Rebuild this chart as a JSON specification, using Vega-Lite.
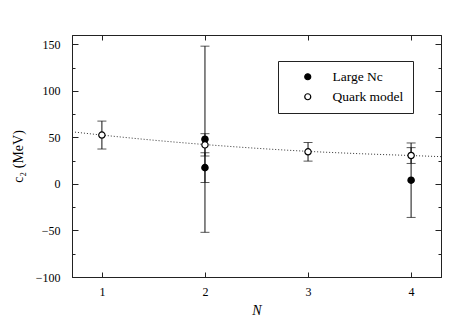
{
  "$schema": "https://vega.github.io/schema/vega-lite/v6.json",
  "width": 369,
  "height": 242,
  "padding": {"left": 72, "top": 35, "right": 22, "bottom": 50},
  "autosize": {"type": "none"},
  "background": "white",
  "datasets": {
    "pts": [
      {"series": "Large Nc", "N": 2, "c2": 48, "lo": -52, "hi": 148},
      {"series": "Large Nc", "N": 2, "c2": 17.5, "lo": 1.5, "hi": 33.5},
      {"series": "Large Nc", "N": 4, "c2": 4, "lo": -36, "hi": 44},
      {"series": "Quark model", "N": 1, "c2": 52.5, "lo": 37.5, "hi": 67.5},
      {"series": "Quark model", "N": 2, "c2": 42, "lo": 30, "hi": 54},
      {"series": "Quark model", "N": 3, "c2": 34.5, "lo": 24.5, "hi": 44.5},
      {"series": "Quark model", "N": 4, "c2": 30.5, "lo": 22, "hi": 39}
    ],
    "curve": [
      {"N": 0.71, "c2": 56},
      {"N": 1, "c2": 52.5},
      {"N": 1.5, "c2": 47},
      {"N": 2, "c2": 42.3},
      {"N": 2.5, "c2": 38.3},
      {"N": 3, "c2": 35},
      {"N": 3.5, "c2": 32.5},
      {"N": 4, "c2": 30.5},
      {"N": 4.29, "c2": 29.3}
    ]
  },
  "resolve": {"axis": {"x": "independent", "y": "independent"}},
  "layer": [
    {
      "data": {"name": "curve"},
      "mark": {"type": "line", "strokeDash": [1, 2], "color": "#333", "strokeWidth": 1, "interpolate": "monotone", "clip": true},
      "encoding": {
        "x": {"field": "N", "type": "quantitative", "scale": {"domain": [0.71, 4.29], "nice": false, "zero": false},
          "axis": {"title": "N", "orient": "bottom", "values": [1, 2, 3, 4], "format": "d", "titleFontStyle": "italic", "titleFontSize": 14, "titlePadding": 6, "labelPadding": 14}},
        "y": {"field": "c2", "type": "quantitative", "scale": {"domain": [-100, 160], "nice": false, "zero": false},
          "axis": {"title": "c₂ (MeV)", "orient": "left", "values": [-100, -75, -50, -25, 0, 25, 50, 75, 100, 125, 150],
            "labelExpr": "datum.value % 50 === 0 ? datum.label : ''",
            "tickSize": {"condition": {"test": "datum.value % 50 === 0", "value": -6}, "value": -3},
            "labelPadding": 18, "titleFontSize": 14, "titlePadding": 10}}
      }
    },
    {
      "data": {"name": "pts"},
      "mark": {"type": "rule", "color": "#111", "strokeWidth": 1},
      "encoding": {
        "x": {"field": "N", "type": "quantitative",
          "axis": {"title": null, "orient": "top", "values": [1, 2, 3, 4], "labels": false, "tickSize": -5}},
        "y": {"field": "lo", "type": "quantitative",
          "axis": {"title": null, "orient": "right", "values": [-100, -75, -50, -25, 0, 25, 50, 75, 100, 125, 150], "labels": false,
            "tickSize": {"condition": {"test": "datum.value % 50 === 0", "value": -6}, "value": -3}}},
        "y2": {"field": "hi"}
      }
    },
    {
      "data": {"name": "pts"},
      "mark": {"type": "tick", "orient": "horizontal", "color": "#111", "size": 9, "thickness": 1},
      "encoding": {
        "x": {"field": "N", "type": "quantitative", "axis": null},
        "y": {"field": "lo", "type": "quantitative", "axis": null}
      }
    },
    {
      "data": {"name": "pts"},
      "mark": {"type": "tick", "orient": "horizontal", "color": "#111", "size": 9, "thickness": 1},
      "encoding": {
        "x": {"field": "N", "type": "quantitative", "axis": null},
        "y": {"field": "hi", "type": "quantitative", "axis": null}
      }
    },
    {
      "data": {"name": "pts"},
      "mark": {"type": "point", "filled": false, "stroke": "#000", "strokeWidth": 1.2, "size": 40, "opacity": 1},
      "encoding": {
        "x": {"field": "N", "type": "quantitative", "axis": null},
        "y": {"field": "c2", "type": "quantitative", "axis": null},
        "fill": {"field": "series", "type": "nominal",
          "scale": {"domain": ["Large Nc", "Quark model"], "range": ["#000", "#fff"]},
          "legend": {"title": null, "orient": "none", "legendX": 206, "legendY": 26,
            "strokeColor": "#222", "padding": 9, "symbolOffset": 14,
            "symbolStrokeColor": "#000", "symbolStrokeWidth": 1.2, "symbolSize": 36,
            "labelFont": "Liberation Serif", "labelFontSize": 13.5, "labelOffset": 18, "rowPadding": 5,
            "fillColor": "white"}}
      }
    }
  ],
  "config": {
    "view": {"stroke": "#222", "strokeWidth": 1},
    "font": "Liberation Serif",
    "legend": {"labelFont": "Liberation Serif", "labelColor": "#000"},
    "axis": {
      "labelFont": "Liberation Serif", "titleFont": "Liberation Serif",
      "labelFontSize": 12, "labelColor": "#000", "titleColor": "#000",
      "titleFontWeight": "normal", "domainColor": "#222", "tickColor": "#222",
      "tickSize": -5, "grid": false
    }
  }
}
